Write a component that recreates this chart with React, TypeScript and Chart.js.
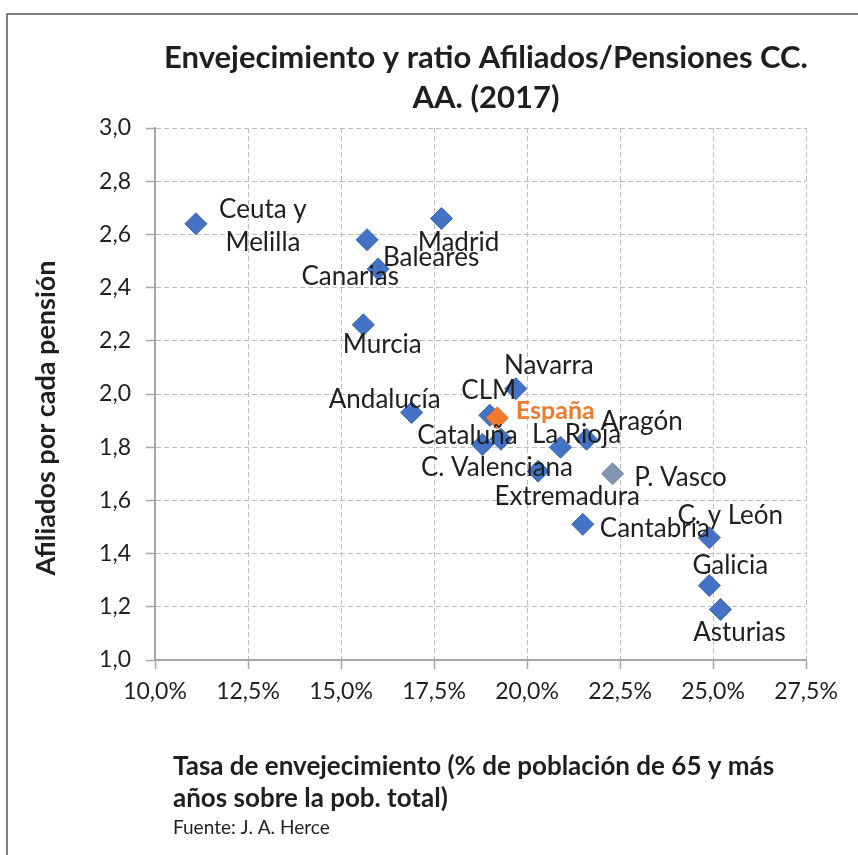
import React, { useEffect, useRef } from 'react';
import { Chart, registerables } from 'chart.js';

Chart.register(...registerables);

// ---- data ----
const regions = [
  'Ceuta y\nMelilla', 'Madrid', 'Baleares', 'Canarias', 'Murcia', 'Navarra', 'CLM', 'Andalucía',
  'Cataluña', 'C. Valenciana', 'La Rioja', 'Aragón', 'Extremadura', 'P. Vasco', 'Cantabria',
  'C. y León', 'Galicia', 'Asturias',
];
const agingRate = [11.1, 17.7, 15.7, 16.0, 15.6, 19.7, 19.0, 16.9, 18.8, 19.3, 20.9, 21.6, 20.3, 22.3, 21.5, 24.9, 24.9, 25.2];
const affiliatesPerPension = [2.64, 2.66, 2.58, 2.47, 2.26, 2.02, 1.92, 1.93, 1.81, 1.83, 1.80, 1.83, 1.71, 1.70, 1.51, 1.46, 1.28, 1.19];
const spainName = ['España'];
const spainAging = [19.2];
const spainRatio = [1.91];
const highlightRegion = 'P. Vasco';

const xTicks = [10, 12.5, 15, 17.5, 20, 22.5, 25, 27.5];
const yTicks = [1.0, 1.2, 1.4, 1.6, 1.8, 2.0, 2.2, 2.4, 2.6, 2.8, 3.0];

const titleLines = ['Envejecimiento y ratio Afiliados/Pensiones CC.', 'AA. (2017)'];
const xTitleLines = ['Tasa de envejecimiento (% de población de 65 y más', 'años sobre la pob. total)'];
const yTitle = 'Afiliados por cada pensión';
const sourceText = 'Fuente: J. A. Herce';

// label offsets (text centre relative to marker centre), styling only
const labelDx = [67, 17, 64, -28, 19, 33, -1, -27, -15, -4, 16, 55, 29, 68, 72, 21, 21, 19];
const labelDy = [2, 24, 18, 8, 20, -23, -25, -13, -9, 28, -13, -18, 25, 4, 4, -22, -20, 23];
const spainDx = [58];
const spainDy = [-7];

const FONT = 'Lato, "Open Sans", sans-serif';
const BLUE = '#4472C4';
const BLUE_BORDER = '#3B64AE';
const GREY_BLUE = '#8096B0';
const ORANGE = '#F07A2E';
const TEXT = '#1F1F1F';

const fmtComma = (v: number, d: number) => v.toFixed(d).replace('.', ',');

const textPlugin = {
  id: 'textPlugin',
  beforeDraw(chart: any) {
    const ctx = chart.ctx;
    ctx.save();
    ctx.fillStyle = '#ffffff';
    ctx.fillRect(0, 0, chart.width, chart.height);
    ctx.strokeStyle = '#5A5A5A';
    ctx.lineWidth = 1.5;
    ctx.beginPath();
    ctx.moveTo(7, chart.height + 5);
    ctx.lineTo(7, 14);
    ctx.lineTo(chart.width + 5, 14);
    ctx.stroke();
    ctx.restore();
  },
  afterDatasetsDraw(chart: any) {
    const ctx = chart.ctx;
    ctx.save();
    ctx.textAlign = 'center';
    ctx.textBaseline = 'middle';
    // region labels
    const meta = chart.getDatasetMeta(1);
    ctx.font = `26px ${FONT}`;
    ctx.fillStyle = TEXT;
    meta.data.forEach((el: any, i: number) => {
      const lines = regions[i].split('\n');
      const lh = 33;
      lines.forEach((line, k) => {
        const off = (k - (lines.length - 1) / 2) * lh;
        ctx.fillText(line, el.x + labelDx[i], el.y + labelDy[i] + off);
      });
    });
    const metaS = chart.getDatasetMeta(0);
    ctx.font = `bold 25px ${FONT}`;
    ctx.fillStyle = ORANGE;
    metaS.data.forEach((el: any, i: number) => {
      ctx.fillText(spainName[i], el.x + spainDx[i], el.y + spainDy[i]);
    });
    ctx.restore();
  },
  afterDraw(chart: any) {
    const ctx = chart.ctx;
    ctx.save();
    ctx.fillStyle = TEXT;
    ctx.textBaseline = 'alphabetic';
    // title
    ctx.textAlign = 'center';
    ctx.font = `bold 31px ${FONT}`;
    ctx.fillText(titleLines[0], 486, 68);
    ctx.fillText(titleLines[1], 486, 108);
    // x title
    ctx.textAlign = 'left';
    ctx.font = `bold 26px ${FONT}`;
    ctx.fillText(xTitleLines[0], 173, 775);
    ctx.fillText(xTitleLines[1], 173, 807);
    ctx.font = `19px ${FONT}`;
    ctx.fillText(sourceText, 173, 834);
    // y title
    ctx.translate(46, 418);
    ctx.rotate(-Math.PI / 2);
    ctx.textAlign = 'center';
    ctx.textBaseline = 'middle';
    ctx.font = `bold 27px ${FONT}`;
    ctx.fillText(yTitle, 0, 0);
    ctx.restore();
  },
};

export default function App() {
  const canvasRef = useRef<HTMLCanvasElement | null>(null);

  useEffect(() => {
    const canvas = canvasRef.current;
    if (!canvas) return;
    const regionColors = regions.map((r) => (r === highlightRegion ? GREY_BLUE : BLUE));
    const regionBorders = regions.map((r) => (r === highlightRegion ? '#7388A2' : BLUE_BORDER));
    const chart = new Chart(canvas, {
      type: 'scatter',
      data: {
        datasets: [
          {
            label: spainName[0],
            data: spainAging.map((x, i) => ({ x, y: spainRatio[i] })),
            pointStyle: 'rectRot',
            pointRadius: 11,
            pointBackgroundColor: ORANGE,
            pointBorderColor: '#E06A20',
            pointBorderWidth: 1,
          },
          {
            label: 'CC. AA.',
            data: agingRate.map((x, i) => ({ x, y: affiliatesPerPension[i] })),
            pointStyle: 'rectRot',
            pointRadius: 11,
            pointBackgroundColor: regionColors,
            pointBorderColor: regionBorders,
            pointBorderWidth: 1,
          },
        ],
      },
      options: {
        responsive: false,
        animation: false,
        events: [],
        layout: { padding: { left: 0, top: 128, right: 52, bottom: 0 } },
        plugins: {
          legend: { display: false },
          title: { display: false },
          tooltip: { enabled: false },
        },
        scales: {
          x: {
            type: 'linear',
            position: 'bottom',
            min: 10,
            max: 27.5,
            afterBuildTicks: (s: any) => {
              s.ticks = xTicks.map((v) => ({ value: v }));
            },
            afterFit: (s: any) => {
              s.height = 195;
            },
            grid: {
              color: '#BDBDBD',
              lineWidth: 1,
              tickLength: 9,
              tickColor: '#A6A6A6',
              tickWidth: 1.5,
            },
            border: { display: true, color: '#A6A6A6', width: 2, dash: [5, 3] },
            ticks: {
              padding: 9,
              color: TEXT,
              font: { family: FONT, size: 23 },
              maxRotation: 0,
              callback: (v: any) => fmtComma(Number(v), 1) + '%',
            },
          },
          y: {
            type: 'linear',
            min: 1,
            max: 3,
            afterBuildTicks: (s: any) => {
              s.ticks = yTicks.map((v) => ({ value: v }));
            },
            afterFit: (s: any) => {
              s.width = 155;
            },
            grid: {
              color: '#BDBDBD',
              lineWidth: 1,
              tickLength: 9,
              tickColor: '#A6A6A6',
              tickWidth: 1.5,
            },
            border: { display: true, color: '#A6A6A6', width: 2, dash: [5, 3] },
            ticks: {
              padding: 15,
              color: TEXT,
              font: { family: FONT, size: 23 },
              callback: (v: any) => fmtComma(Number(v), 1),
            },
          },
        },
      },
      plugins: [textPlugin],
    });
    return () => chart.destroy();
  }, []);

  return (
    <div style={{ position: 'absolute', left: 0, top: 0, width: 858, height: 855, background: '#fff' }}>
      <canvas ref={canvasRef} width={858} height={855} style={{ display: 'block', width: 858, height: 855 }} />
    </div>
  );
}
